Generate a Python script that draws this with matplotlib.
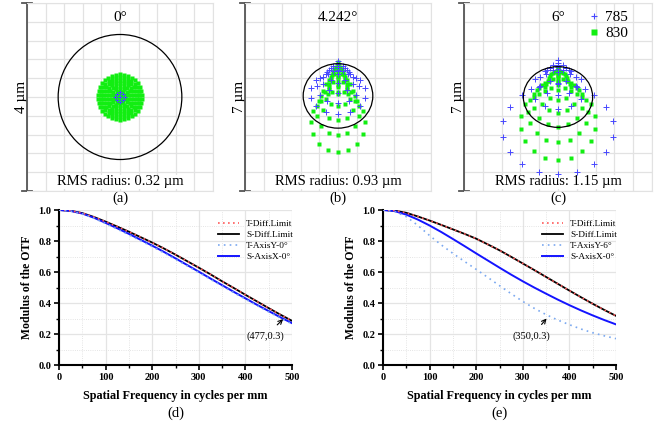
import matplotlib
matplotlib.use('Agg')
import matplotlib.pyplot as plt
from matplotlib.patches import Ellipse
from matplotlib.lines import Line2D
from matplotlib.ticker import MultipleLocator, FormatStrFormatter
import numpy as np

plt.rcParams['font.family'] = ['Liberation Serif', 'DejaVu Serif']

# ---- spot diagrams (a)-(c) ----
field_angles = ['0°', '4.242°', '6°']
rms_radius = [0.32, 0.93, 1.15]
scale_um = [4, 7, 7]
top_captions = ['(a)', '(b)', '(c)']

# rings of rays: (centre y, half width, half height, rays), in um
spot_a_785 = [(0.0, 0.10, 0.10, 8), (0.0, 0.0, 0.0, 1)]
spot_a_830 = [(0.0, 0.48, 0.48, 34), (0.0, 0.42, 0.42, 30), (0.0, 0.36, 0.36, 26),
              (0.0, 0.30, 0.30, 22), (0.0, 0.24, 0.24, 18), (0.0, 0.18, 0.18, 14),
              (0.0, 0.12, 0.12, 10), (0.0, 0.06, 0.06, 6), (0.0, 0.0, 0.0, 1)]
spot_b_785 = [(0.15, 1.04, 0.80, 14), (0.40, 0.80, 0.62, 12), (0.62, 0.58, 0.46, 10),
              (0.85, 0.38, 0.32, 8), (1.05, 0.20, 0.18, 6), (1.35, 0.0, 0.0, 1)]
spot_b_830 = [(-0.94, 1.00, 1.12, 16), (-0.52, 0.82, 0.91, 14), (-0.14, 0.65, 0.72, 12),
              (0.20, 0.50, 0.55, 12), (0.50, 0.36, 0.40, 10), (0.74, 0.25, 0.28, 8),
              (0.94, 0.16, 0.18, 6), (1.10, 0.09, 0.10, 4), (1.30, 0.0, 0.0, 1)]
spot_c_785 = [(-1.20, 2.08, 1.68, 18), (0.30, 1.00, 0.75, 12), (0.58, 0.70, 0.52, 10),
              (0.85, 0.44, 0.34, 8), (1.10, 0.22, 0.18, 6), (1.39, 0.0, 0.0, 1)]
spot_c_830 = [(-0.95, 1.40, 1.40, 18), (-0.55, 1.13, 1.13, 16), (-0.21, 0.90, 0.90, 14),
              (0.10, 0.69, 0.69, 12), (0.38, 0.50, 0.50, 10), (0.60, 0.35, 0.35, 8),
              (0.79, 0.22, 0.22, 6), (0.94, 0.12, 0.12, 4), (1.12, 0.0, 0.0, 1)]
spots_785 = [spot_a_785, spot_b_785, spot_c_785]
spots_830 = [spot_a_830, spot_b_830, spot_c_830]
# Airy circle: centre y, width, height (um)
airy = [(0.0, 2.66, 2.66), (0.04, 2.62, 2.40), (0.0, 2.58, 2.26)]

# ---- MTF curves (d)-(e) ----
freq = [0, 25, 50, 75, 100, 125, 150, 175, 200, 225, 250,
        275, 300, 325, 350, 375, 400, 425, 450, 475, 500]
d_diff_t = [1.0, 0.995, 0.98, 0.955, 0.925, 0.893, 0.86, 0.825, 0.79, 0.752, 0.712,
            0.67, 0.628, 0.585, 0.54, 0.497, 0.453, 0.41, 0.367, 0.325, 0.285]
d_diff_s = [1.0, 0.995, 0.98, 0.955, 0.925, 0.893, 0.86, 0.825, 0.79, 0.752, 0.712,
            0.67, 0.628, 0.585, 0.54, 0.497, 0.453, 0.41, 0.367, 0.325, 0.285]
d_axis_t = [1.0, 0.993, 0.975, 0.947, 0.913, 0.877, 0.84, 0.802, 0.764, 0.724, 0.682,
            0.64, 0.597, 0.553, 0.51, 0.467, 0.425, 0.383, 0.343, 0.303, 0.265]
d_axis_s = [1.0, 0.994, 0.977, 0.95, 0.917, 0.882, 0.846, 0.808, 0.77, 0.73, 0.688,
            0.645, 0.602, 0.558, 0.515, 0.472, 0.43, 0.388, 0.348, 0.308, 0.27]
e_diff_t = [1.0, 0.996, 0.982, 0.958, 0.932, 0.904, 0.875, 0.846, 0.815, 0.778, 0.74,
            0.698, 0.655, 0.612, 0.568, 0.524, 0.48, 0.437, 0.395, 0.355, 0.317]
e_diff_s = [1.0, 0.996, 0.982, 0.958, 0.932, 0.904, 0.875, 0.846, 0.815, 0.778, 0.74,
            0.698, 0.655, 0.612, 0.568, 0.524, 0.48, 0.437, 0.395, 0.355, 0.317]
e_axis_t = [1.0, 0.99, 0.957, 0.9, 0.835, 0.775, 0.72, 0.668, 0.617, 0.565, 0.512,
            0.46, 0.41, 0.365, 0.325, 0.29, 0.26, 0.232, 0.208, 0.188, 0.17]
e_axis_s = [1.0, 0.993, 0.97, 0.938, 0.90, 0.858, 0.813, 0.767, 0.72, 0.674, 0.628,
            0.583, 0.54, 0.499, 0.46, 0.422, 0.386, 0.352, 0.32, 0.29, 0.262]
mtf_labels_d = ['T-Diff.Limit', 'S-Diff.Limit', 'T-AxisY-0°', 'S-AxisX-0°']
mtf_labels_e = ['T-Diff.Limit', 'S-Diff.Limit', 'T-AxisY-6°', 'S-AxisX-0°']
annot_d = ('(477,0.3)', (481, 0.296), (443, 0.185))
annot_e = ('(350,0.3)', (351, 0.30), (319, 0.185))
bottom_captions = ['(d)', '(e)']

BLUE_PT = '#4848ff'
GREEN_PT = '#12ee12'
W, H = 660, 423


def ring_points(rings):
    xs, ys = [], []
    for cy, rx, ry, n in rings:
        t = -np.pi / 2 + 2 * np.pi * np.arange(n) / n
        xs.extend(rx * np.cos(t))
        ys.extend(cy + ry * np.sin(t))
    return xs, ys


def px_axes(fig, x0, x1, y0, y1):
    return fig.add_axes([x0 / W, 1 - y1 / H, (x1 - x0) / W, (y1 - y0) / H])


fig = plt.figure(figsize=(6.6, 4.23), dpi=100)

top_boxes = [(27, 213), (245, 431), (464, 652)]
for i, (x0, x1) in enumerate(top_boxes):
    ax = px_axes(fig, x0, x1, 3, 191)
    half = scale_um[i] / 2
    ax.set_xlim(-half, half)
    ax.set_ylim(-half, half)
    ticks = np.linspace(-half, half, 11)
    ax.set_xticks(ticks)
    ax.set_yticks(ticks)
    ax.tick_params(length=0, labelbottom=False, labelleft=False)
    ax.grid(True, color='#e2e2e2', lw=0.9)
    for s in ['top', 'right', 'bottom']:
        ax.spines[s].set_color('#e2e2e2')
    ax.spines['left'].set_color('#555555')
    ax.spines['left'].set_linewidth(1.3)
    for yy in (0, 1):
        ax.plot([-0.025, 0.025], [yy, yy], transform=ax.transAxes, color='#555555',
                lw=1.3, clip_on=False)

    gx, gy = ring_points(spots_830[i])
    bx, by = ring_points(spots_785[i])
    ms_sq = 2.5 if i == 0 else 3.0
    ms_cross = 3.0 if i == 0 else 4.0
    ax.plot(gx, gy, ls='', marker='s', ms=ms_sq, color=GREEN_PT, mec='none', zorder=3)
    ax.plot(bx, by, ls='', marker='+', ms=ms_cross, mew=0.7, color=BLUE_PT, zorder=4)
    cy, w, h = airy[i]
    ax.add_patch(Ellipse((0, cy), w, h, fill=False, ec='black', lw=0.9, zorder=5))

    ax.set_ylabel(f'{scale_um[i]} µm', fontsize=11, labelpad=-1)
    ax.text(0.5, 0.925, field_angles[i], transform=ax.transAxes, ha='center',
            va='center', fontsize=11)
    ax.text(0.5, 0.048, f'RMS radius: {rms_radius[i]} µm', transform=ax.transAxes,
            ha='center', va='center', fontsize=10.5,
            bbox=dict(fc='white', ec='none', pad=0.5))
    ax.text(0.5, -0.04, top_captions[i], transform=ax.transAxes, ha='center',
            va='center', fontsize=10.5)
    if i == 2:
        handles = [Line2D([], [], ls='', marker='+', ms=5, mew=0.8, color=BLUE_PT),
                   Line2D([], [], ls='', marker='s', ms=4, color=GREEN_PT, mec='none')]
        ax.legend(handles, ['785', '830'], loc='upper right', bbox_to_anchor=(0.92, 1.01),
                  frameon=False, fontsize=11, handlelength=0.8, handletextpad=0.3,
                  labelspacing=0.15, borderaxespad=0.2)

# ---- MTF panels ----
mtf_sets = [(d_diff_t, d_diff_s, d_axis_t, d_axis_s, mtf_labels_d, annot_d),
            (e_diff_t, e_diff_s, e_axis_t, e_axis_s, mtf_labels_e, annot_e)]
for j, x0 in enumerate([59, 383]):
    diff_t, diff_s, axis_t, axis_s, labels, annot = mtf_sets[j]
    ax = px_axes(fig, x0, x0 + 233, 210, 365)
    ax.plot(freq, diff_s, color='black', lw=1.3, label=labels[1], zorder=3)
    ax.plot(freq, diff_t, color='#ff5a5a', lw=1.2, ls=(0, (1, 2)), label=labels[0], zorder=4)
    ax.plot(freq, axis_s, color='#1414ff', lw=1.4, label=labels[3], zorder=3)
    ax.plot(freq, axis_t, color='#7aa8f0', lw=1.2, ls=(0, (1, 2.5)), label=labels[2], zorder=4)

    ax.set_xlim(0, 500)
    ax.set_ylim(0, 1.0)
    ax.xaxis.set_major_locator(MultipleLocator(100))
    ax.xaxis.set_minor_locator(MultipleLocator(50))
    ax.yaxis.set_major_locator(MultipleLocator(0.2))
    ax.yaxis.set_minor_locator(MultipleLocator(0.1))
    ax.yaxis.set_major_formatter(FormatStrFormatter('%.1f'))
    ax.grid(True, which='major', color='#e4e4e4', lw=0.9)
    ax.grid(True, which='minor', color='#dcdcdc', lw=0.6, ls=':')
    ax.set_axisbelow(True)
    for s in ['top', 'right']:
        ax.spines[s].set_visible(False)
    for s in ['left', 'bottom']:
        ax.spines[s].set_linewidth(1.5)
    ax.tick_params(which='major', direction='out', length=3.5, width=1.2, labelsize=7.5, pad=2)
    ax.tick_params(which='minor', direction='out', length=2.2, width=1.0)
    for lab in ax.get_xticklabels() + ax.get_yticklabels():
        lab.set_fontweight('bold')
    ax.set_xlabel('Spatial Frequency in cycles per mm', fontsize=8.7, fontweight='bold',
                  labelpad=6)
    ax.set_ylabel('Modulus of the OTF', fontsize=8.5, fontweight='bold', labelpad=4)

    h, l = ax.get_legend_handles_labels()
    order = [1, 0, 3, 2]
    ax.legend([h[k] for k in order], [l[k] for k in order], loc='upper right',
              bbox_to_anchor=(1.04, 0.99), frameon=False, fontsize=6.7,
              handlelength=2.2, handletextpad=0.8, labelspacing=0.25)

    txt, tip, pos = annot
    ax.annotate(txt, xy=tip, xytext=pos, ha='center', va='center', fontsize=7.5,
                arrowprops=dict(arrowstyle='->', color='black', lw=0.8, shrinkA=4, shrinkB=0))
    ax.text(0.5, -0.31, bottom_captions[j], transform=ax.transAxes, ha='center',
            va='center', fontsize=10.5)

fig.savefig('out.png', dpi=100)
